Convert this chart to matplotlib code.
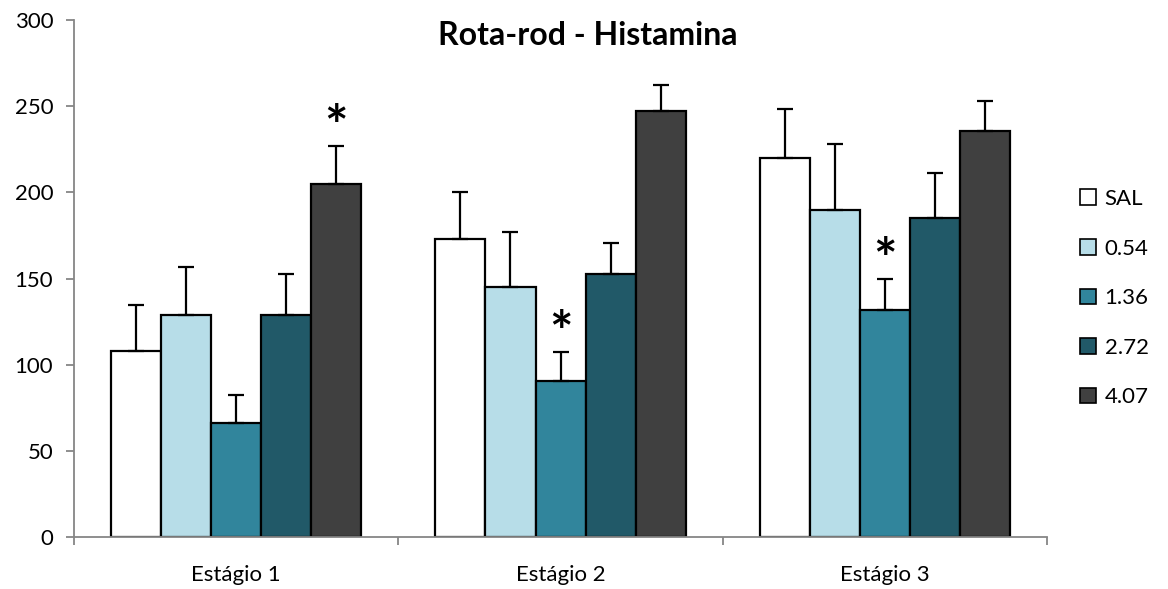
import numpy as np
import matplotlib
matplotlib.use("Agg")
import matplotlib.pyplot as plt

plt.rcParams['font.family'] = ['Lato', 'DejaVu Sans']

# Dados
estagios = ["Estágio 1", "Estágio 2", "Estágio 3"]
grupos = ["SAL", "0.54", "1.36", "2.72", "4.07"]
medias = {
    "SAL":  [108, 173, 220],
    "0.54": [129, 145, 190],
    "1.36": [66, 90.5, 131.5],
    "2.72": [129, 152.5, 185],
    "4.07": [205, 247, 235.5],
}
erros = {
    "SAL":  [26.5, 27, 28.5],
    "0.54": [27.5, 32, 38],
    "1.36": [16.5, 17, 18.5],
    "2.72": [23.5, 18, 26],
    "4.07": [22, 15.5, 17.5],
}
# asteriscos: (estágio, grupo)
significativos = [(0, "4.07"), (1, "1.36"), (2, "1.36")]

cores = ["#FFFFFF", "#B7DDE8", "#31859C", "#215968", "#404040"]

fig = plt.figure(figsize=(11.68, 5.89), dpi=100)
ax = fig.add_axes([0.0634, 0.0883, 0.8330, 0.8777])

x = np.arange(len(estagios))
largura = 0.1543

for i, g in enumerate(grupos):
    pos = x + (i - 2) * largura
    ax.bar(pos, medias[g], largura, color=cores[i], edgecolor="black",
           linewidth=1.6, label=g, zorder=2)
    ax.errorbar(pos, medias[g], yerr=[np.zeros(3), erros[g]], fmt="none",
                ecolor="black", elinewidth=1.6, capsize=6, capthick=1.6, zorder=3)

for est, g in significativos:
    i = grupos.index(g)
    pos = x[est] + (i - 2) * largura
    topo = medias[g][est] + erros[g][est]
    ax.annotate("*", (pos, topo), xytext=(0, -6), textcoords="offset points",
                ha="center", va="bottom", fontsize=40, fontweight="bold")

ax.set_xlim(-0.5, 2.5)
ax.set_ylim(0, 300)
ax.set_yticks(range(0, 301, 50))
ax.set_xticks(x)
ax.set_xticklabels(estagios)
ax.set_xticks([-0.5, 0.5, 1.5, 2.5], minor=True)
ax.tick_params(axis="x", which="major", length=0, labelsize=16, pad=20)
ax.tick_params(axis="x", which="minor", length=6, color="#868686", width=1.3)
ax.tick_params(axis="y", length=6, color="#868686", width=1.3, labelsize=16, pad=9)

for s in ["top", "right"]:
    ax.spines[s].set_visible(False)
for s in ["left", "bottom"]:
    ax.spines[s].set_color("#868686")
    ax.spines[s].set_linewidth(1.3)

fig.text(0.503, 0.94, "Rota-rod - Histamina", ha="center", va="center",
         fontsize=23, fontweight="bold")

leg = ax.legend(loc="center left", bbox_to_anchor=(1.025, 0.462), frameon=False,
                fontsize=16, handlelength=0.7, handleheight=0.7,
                handletextpad=0.4, labelspacing=1.33, borderaxespad=0)
for h in leg.legend_handles:
    h.set_linewidth(1.2)

fig.savefig("out.png", dpi=100)
